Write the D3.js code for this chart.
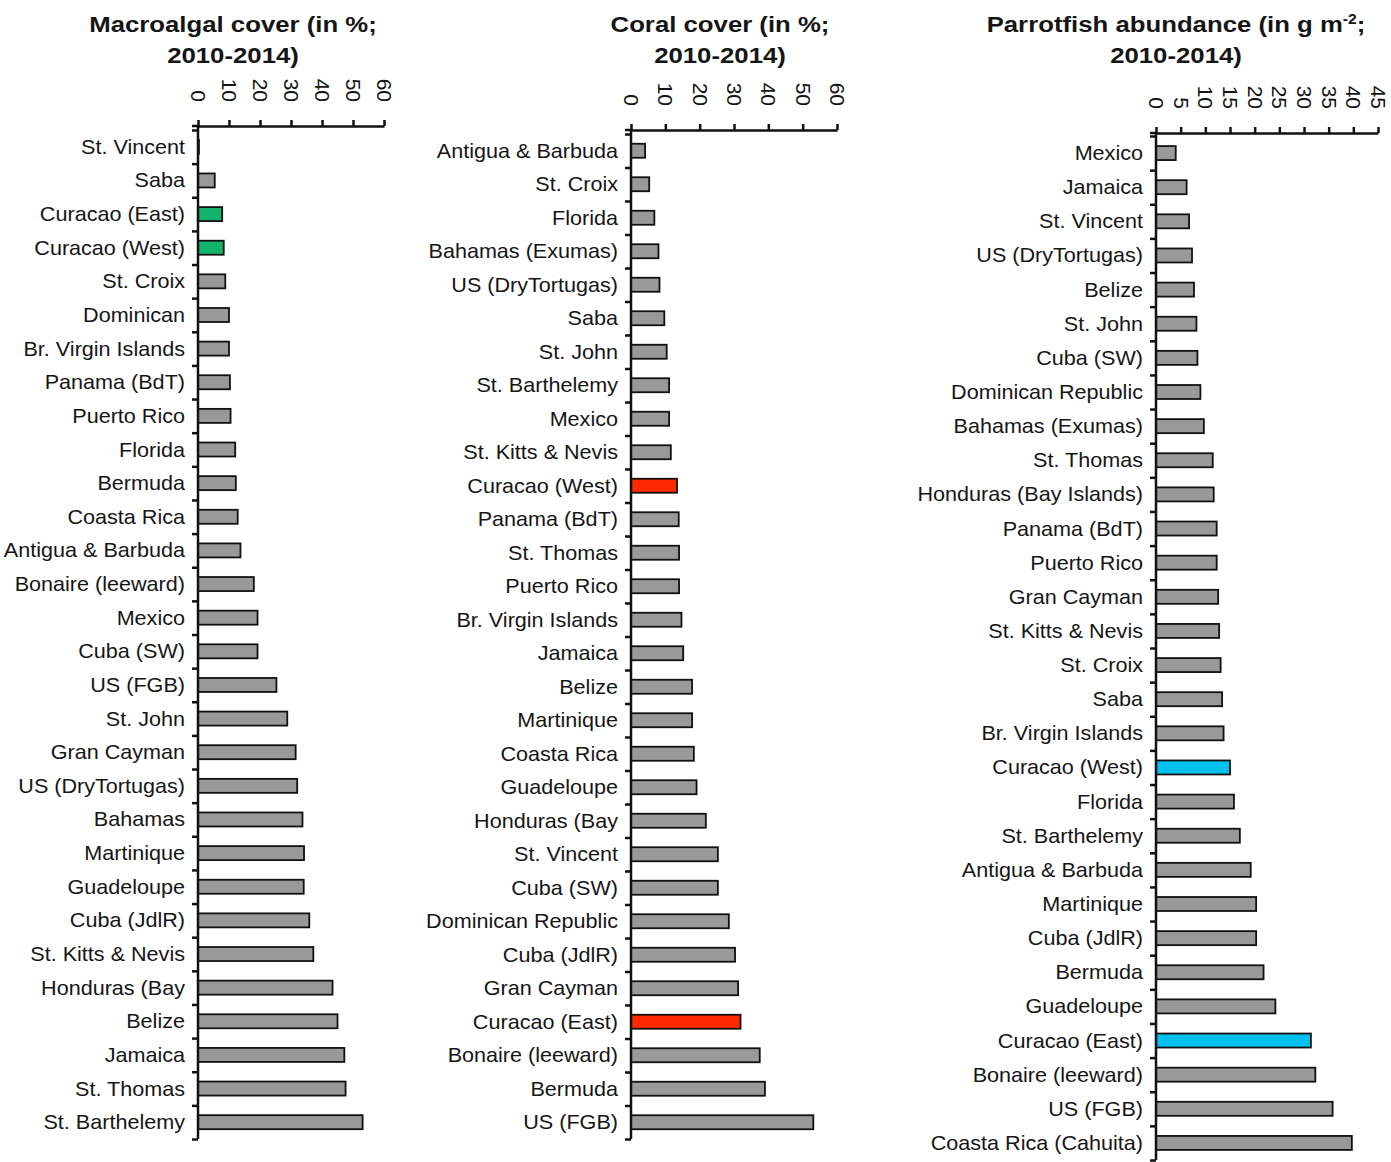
<!DOCTYPE html>
<html><head><meta charset="utf-8">
<script src="https://cdn.jsdelivr.net/npm/d3@7"></script>
<style>
body{margin:0;background:#fff}
text{font-family:"Liberation Sans",Arial,sans-serif;fill:#151515}
</style></head>
<body><svg id="c" width="1391" height="1162"></svg>
<script>
// ---------- DATA ----------
const macroCats = ["St. Vincent","Saba","Curacao (East)","Curacao (West)","St. Croix","Dominican","Br. Virgin Islands","Panama (BdT)","Puerto Rico","Florida","Bermuda","Coasta Rica","Antigua & Barbuda","Bonaire (leeward)","Mexico","Cuba (SW)","US (FGB)","St. John","Gran Cayman","US (DryTortugas)","Bahamas","Martinique","Guadeloupe","Cuba (JdlR)","St. Kitts & Nevis","Honduras (Bay","Belize","Jamaica","St. Thomas","St. Barthelemy"];
const macroVals = [0.3,5.4,7.8,8.3,8.8,10.0,10.0,10.3,10.5,12.0,12.2,12.8,13.7,18.0,19.2,19.2,25.3,28.8,31.5,32.0,33.7,34.2,34.1,35.9,37.2,43.4,45.0,47.2,47.6,53.1];
const macroHighlight = ["Curacao (East)","Curacao (West)"];
const macroTicks = [0,10,20,30,40,50,60];

const coralCats = ["Antigua & Barbuda","St. Croix","Florida","Bahamas (Exumas)","US (DryTortugas)","Saba","St. John","St. Barthelemy","Mexico","St. Kitts & Nevis","Curacao (West)","Panama (BdT)","St. Thomas","Puerto Rico","Br. Virgin Islands","Jamaica","Belize","Martinique","Coasta Rica","Guadeloupe","Honduras (Bay","St. Vincent","Cuba (SW)","Dominican Republic","Cuba (JdlR)","Gran Cayman","Curacao (East)","Bonaire (leeward)","Bermuda","US (FGB)"];
const coralVals = [4.1,5.3,6.8,8.0,8.3,9.7,10.4,11.1,11.1,11.6,13.4,13.9,14.0,14.0,14.7,15.2,17.8,17.8,18.3,19.1,21.8,25.3,25.3,28.5,30.3,31.2,31.9,37.5,39.0,53.1];
const coralHighlight = ["Curacao (East)","Curacao (West)"];
const coralTicks = [0,10,20,30,40,50,60];

const fishCats = ["Mexico","Jamaica","St. Vincent","US (DryTortugas)","Belize","St. John","Cuba (SW)","Dominican Republic","Bahamas (Exumas)","St. Thomas","Honduras (Bay Islands)","Panama (BdT)","Puerto Rico","Gran Cayman","St. Kitts & Nevis","St. Croix","Saba","Br. Virgin Islands","Curacao (West)","Florida","St. Barthelemy","Antigua & Barbuda","Martinique","Cuba (JdlR)","Bermuda","Guadeloupe","Curacao (East)","Bonaire (leeward)","US (FGB)","Coasta Rica (Cahuita)"];
const fishVals = [4.0,6.2,6.7,7.3,7.7,8.2,8.4,9.0,9.7,11.5,11.7,12.3,12.3,12.6,12.8,13.1,13.4,13.7,15.0,15.8,17.0,19.2,20.3,20.3,21.8,24.2,31.4,32.3,35.8,39.7];
const fishHighlight = ["Curacao (East)","Curacao (West)"];
const fishTicks = [0,5,10,15,20,25,30,35,40,45];

// ---------- LAYOUT ----------
const svg = d3.select("#c");
const panels = [
  {cats:macroCats, vals:macroVals, hl:macroHighlight, ticks:macroTicks, hlColor:"#12b36a",
   x0:198, x1:384, axisY:126, top:130, bottom:1139, tcx:233, t1:"Macroalgal cover (in %;", sup:false},
  {cats:coralCats, vals:coralVals, hl:coralHighlight, ticks:coralTicks, hlColor:"#ff2a00",
   x0:631, x1:837, axisY:130, top:134, bottom:1139, tcx:720, t1:"Coral cover (in %;", sup:false},
  {cats:fishCats, vals:fishVals, hl:fishHighlight, ticks:fishTicks, hlColor:"#00c0ee",
   x0:1156, x1:1378, axisY:133, top:136, bottom:1160, tcx:1176, t1:"Parrotfish abundance (in g m", sup:true}
];
panels.forEach(p => {
  const g = svg.append("g");
  const x = d3.scaleLinear().domain([0, p.ticks[p.ticks.length-1]]).range([p.x0, p.x1]);
  const y = d3.scaleBand().domain(p.cats).range([p.top, p.bottom]).padding(0);
  const yl = d3.scaleLinear().domain([0, p.cats.length]).range([p.top, p.bottom]);
  const bh = 14;

  // bars
  g.selectAll("rect.bar").data(p.cats).join("rect")
    .attr("x", x(0))
    .attr("y", d => y(d) + (y.bandwidth()-bh)/2)
    .attr("width", (d,i) => Math.max(0, x(p.vals[i]) - x(0)))
    .attr("height", bh)
    .attr("fill", d => p.hl.includes(d) ? p.hlColor : "#999999")
    .attr("stroke", "#111").attr("stroke-width", 1.8);

  // category labels
  const ya = g.append("g").attr("transform", `translate(${p.x0},0)`)
    .call(d3.axisLeft(y).tickSize(0).tickPadding(13));
  ya.select(".domain").remove();
  ya.selectAll("text")
    .attr("x", null).attr("dy", "0.35em")
    .attr("transform", `translate(-13,0) scale(1.08,1)`)
    .style("font-size","20px").attr("fill","#151515");

  // boundary ticks on y axis
  const yb = g.append("g").attr("transform", `translate(${p.x0},0)`)
    .call(d3.axisLeft(yl).tickValues(d3.range(p.cats.length+1)).tickSize(6).tickFormat("").tickSizeOuter(0));
  yb.select(".domain").remove();
  yb.selectAll("line").attr("stroke","#111").attr("stroke-width",2.5);
  g.append("line").attr("x1",p.x0).attr("x2",p.x0).attr("y1",p.axisY).attr("y2",p.bottom)
    .attr("stroke","#111").attr("stroke-width",2.5);

  // x axis
  const xa = g.append("g").attr("transform", `translate(0,${p.axisY})`)
    .call(d3.axisTop(x).tickValues(p.ticks).tickSize(6).tickSizeOuter(0).tickPadding(0));
  xa.select(".domain").attr("stroke","#111").attr("stroke-width",2.5);
  xa.selectAll("line").attr("stroke","#111").attr("stroke-width",2.5);
  xa.selectAll("text")
    .attr("y", null).attr("dy", "0.35em").attr("text-anchor","end")
    .attr("transform", "translate(0,-24) rotate(90)")
    .style("font-size","21px").attr("fill","#151515");
  // short extension of the top axis left of zero (corner)
  g.append("line").attr("x1",p.x0-6).attr("x2",p.x0).attr("y1",p.axisY).attr("y2",p.axisY)
    .attr("stroke","#111").attr("stroke-width",2.5);

  // title
  const tt = g.append("text").attr("text-anchor","middle")
    .attr("transform", `translate(${p.tcx},32) scale(1.12,1)`)
    .style("font-size","23px").style("font-weight","bold");
  tt.append("tspan").text(p.t1);
  if (p.sup) {
    tt.append("tspan").attr("dy","-8").style("font-size","14px").text("-2");
    tt.append("tspan").attr("dy","8").text(";");
  }
  g.append("text").attr("text-anchor","middle")
    .attr("transform", `translate(${p.tcx},63) scale(1.12,1)`)
    .style("font-size","23px").style("font-weight","bold").text("2010-2014)");
});
</script>
</body></html>
